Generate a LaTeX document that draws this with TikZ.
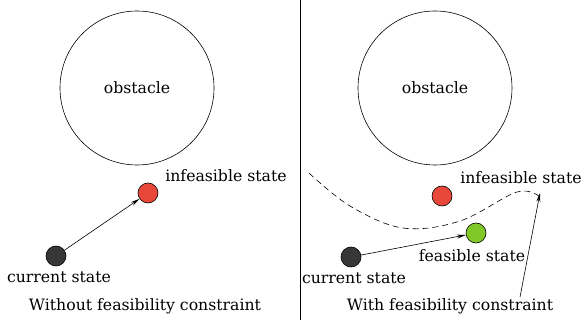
\documentclass[tikz,border=0pt]{standalone}
\usepackage{fontspec}
\setmainfont{DejaVu Serif}
\usetikzlibrary{arrows.meta}
\tikzstyle{obstacle}=[draw, circle, minimum size=154pt, inner sep=0pt]
\tikzstyle{state}=[draw, circle, minimum size=20pt, inner sep=0pt]
\tikzstyle{statetext}=[font=\rmfamily\fontsize{15.7}{18}\selectfont, inner sep=0pt]
\tikzstyle{move}=[draw, -{Stealth[length=9pt,width=4pt]}]

\begin{document}
\begin{tikzpicture}[x=1pt, y=-1pt, line width=0.6pt]
    \useasboundingbox (0,0) rectangle (583,320);
    \definecolor{infred}{RGB}{232,72,58}
    \definecolor{feasgreen}{RGB}{128,200,40}
    \definecolor{curgray}{RGB}{55,55,55}

  % obstacles
  \foreach \name/\x in {obsL/137, obsR/435}
        \node[obstacle, statetext] (\name) at (\x,88) {obstacle};

  % divider
  \coordinate (divtop) at (300,0);
  \coordinate (divbot) at (300,320);
  \draw (divtop) -- (divbot);

  % without constraint
  \node[state, fill=infred] (infL) at (148,193) {};
  \node[state, fill=curgray] (curL) at (56,256) {};
  \node[statetext] (infLtext) at (226,176) {infeasible state};
  \node[statetext] (curLtext) at (59,277) {current state};
  \node[statetext] (titleL) at (145,306) {Without feasibility constraint};
  \path[move] (curL) -- (infL);

  % with constraint
  \node[state, fill=infred] (infR) at (442,196) {};
  \node[state, fill=feasgreen] (feasR) at (476,233) {};
  \node[state, fill=curgray] (curR) at (351,257) {};
  \node[statetext] (infRtext) at (521,178) {infeasible state};
  \node[statetext] (feasRtext) at (472,256) {feasible state};
  \node[statetext] (curRtext) at (354,278) {current state};
  \node[statetext] (titleR) at (450,306) {With feasibility constraint};
  \path[move] (curR) -- (feasR);

  % boundary of feasible set
  \coordinate (bndstart) at (309,173);
  \coordinate (bndend) at (540,197);
  \draw[dash pattern=on 6pt off 4pt] plot[smooth, tension=0.6] coordinates
      {(bndstart) (350,206) (403,228) (460,221) (517,192) (bndend)};
  \coordinate (bndtail) at (520,297);
  \path[move] (bndtail) -- ([yshift=4pt]bndend);

\end{tikzpicture}
\end{document}
